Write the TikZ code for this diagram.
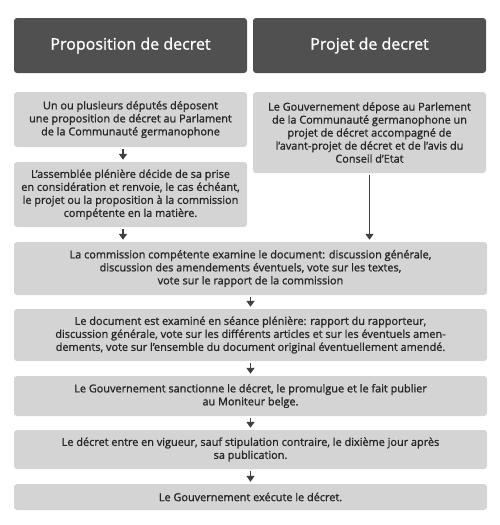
\documentclass[tikz,border=0pt]{standalone}
\usepackage{fontspec}
\setmainfont{Open Sans}
\newfontfamily\semifont{Open Sans}[FakeBold=1.2]
\usetikzlibrary{arrows.meta}
\definecolor{hdr}{HTML}{505050}
\definecolor{boxc}{HTML}{D4D4D4}
\definecolor{txt}{HTML}{262626}
\definecolor{arr}{HTML}{404040}
\begin{document}
\begin{tikzpicture}[x=1pt,y=-1pt,
  header/.style={fill=hdr,rounded corners=3pt,inner sep=0pt,text=white,font=\semifont\fontsize{16}{19}\selectfont,align=center},
  stepbox/.style={fill=boxc,rounded corners=3pt,inner sep=0pt,text=txt,font=\semifont\fontsize{10.9}{13}\selectfont,align=center},
  flow/.style={draw=arr,line width=1.6pt,-{Triangle[width=8pt,length=6pt]},shorten <=2pt,shorten >=2pt}]
\useasboundingbox (0,0) rectangle (500,525);
\node[header,minimum width=233pt,minimum height=55pt] (hl) at (130.5,45.5) {Proposition de decret};
\node[header,minimum width=233pt,minimum height=55pt] (hr) at (369.5,45.5) {Projet de decret};
\node[stepbox,minimum width=233pt,minimum height=55pt] (a) at (130.5,119.5) {Un ou plusieurs députés déposent\\une proposition de décret au Parlament\\de la Communauté germanophone};
\node[stepbox,minimum width=233pt,minimum height=81pt] (c) at (369.5,132.5) {Le Gouvernement dépose au Parlement\\de la Communauté germanophone un\\projet de décret accompagné de\\l’avant-projet de décret et de l’avis du\\Conseil d’Etat};
\node[stepbox,minimum width=233pt,minimum height=65pt] (b) at (130.5,194.5) {L’assemblée plénière décide de sa prise\\en considération et renvoie, le cas échéant,\\le projet ou la proposition à la commission\\compétente en la matière.};
\node[stepbox,minimum width=473pt,minimum height=53pt] (d) at (250.5,268.5) {La commission compétente examine le document: discussion générale,\\discussion des amendements éventuels, vote sur les textes,\\vote sur le rapport de la commission};
\node[stepbox,minimum width=473pt,minimum height=52pt] (e) at (250.5,335) {Le document est examiné en séance plénière: rapport du rapporteur,\\discussion générale, vote sur les différents articles et sur les éventuels amen-\\dements, vote sur l’ensemble du document original éventuellement amendé.};
\node[stepbox,minimum width=473pt,minimum height=40pt] (f) at (250.5,396) {Le Gouvernement sanctionne le décret, le promulgue et le fait publier\\au Moniteur belge.};
\node[stepbox,minimum width=473pt,minimum height=39pt] (g) at (250.5,449.5) {Le décret entre en vigueur, sauf stipulation contraire, le dixième jour après\\sa publication.};
\node[stepbox,minimum width=473pt,minimum height=26pt] (h) at (250.5,497) {Le Gouvernement exécute le décret.};
\draw[flow] (a.south -| 123,0) -- (b.north -| 123,0);
\draw[flow] (b.south -| 123,0) -- (d.north -| 123,0);
\draw[flow] (c.south) -- (c.south |- d.north);
\draw[flow] (d.south) -- (e.north);
\draw[flow] (e.south) -- (f.north);
\draw[flow] (f.south) -- (g.north);
\draw[flow] (g.south) -- (h.north);
\end{tikzpicture}
\end{document}
